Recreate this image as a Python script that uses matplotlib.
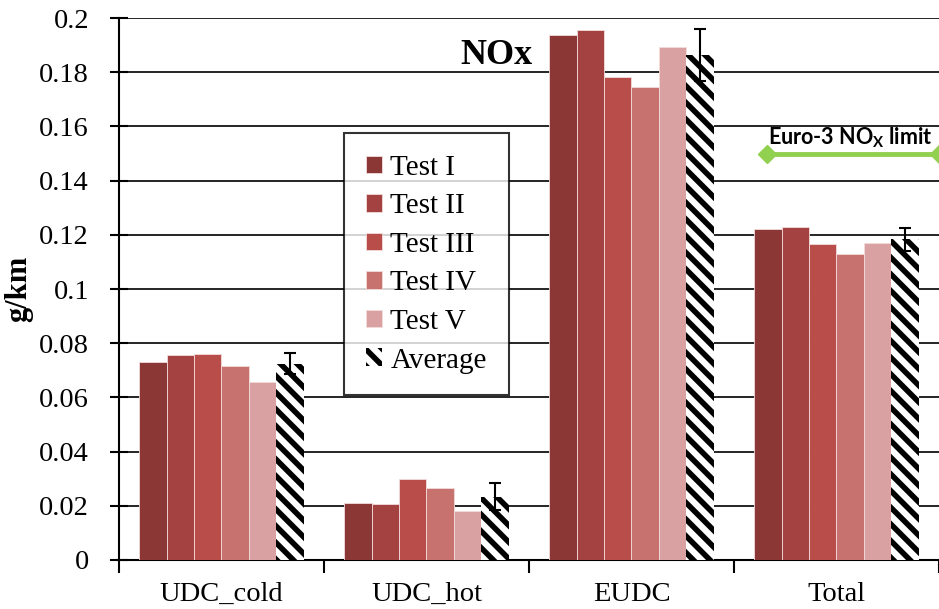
import matplotlib.pyplot as plt
import numpy as np

plt.rcParams['font.family'] = ['Liberation Serif', 'DejaVu Serif']
plt.rcParams['hatch.linewidth'] = 4
plt.rcParams['mathtext.fontset'] = 'custom'
plt.rcParams['mathtext.bf'] = 'Lato:bold'
plt.rcParams['mathtext.rm'] = 'Lato'

cycles = ['UDC_cold', 'UDC_hot', 'EUDC', 'Total']
tests = ['Test I', 'Test II', 'Test III', 'Test IV', 'Test V']
test_values = [
    [0.0732, 0.0209, 0.1938, 0.1220],
    [0.0756, 0.0208, 0.1956, 0.1229],
    [0.0760, 0.0299, 0.1782, 0.1166],
    [0.0717, 0.0266, 0.1747, 0.1129],
    [0.0658, 0.0182, 0.1892, 0.1169],
]
average = [0.0725, 0.0233, 0.1863, 0.1183]
average_err = [0.0040, 0.0050, 0.0095, 0.0042]
euro3_limit = 0.15

colors = ['#8a3736', '#a44241', '#b84d4a', '#c87270', '#d9a1a1']

fig = plt.figure(figsize=(9.39, 6.09), dpi=100)
ax = fig.add_axes([0.1267, 0.0805, 0.8733, 0.8899])

x = np.arange(len(cycles))
w = 0.134
for i, (name, vals) in enumerate(zip(tests, test_values)):
    ax.bar(x + (i - 2.5) * w, vals, w, color=colors[i], edgecolor='#f2dcdc',
           linewidth=0.6, label=name, zorder=3)
ax.bar(x + 2.5 * w, average, w, color='white', edgecolor='black', linewidth=0,
       hatch='\\\\', label='Average', zorder=3)
ax.errorbar(x + 2.5 * w, average, yerr=average_err, fmt='none', ecolor='black',
            elinewidth=1.5, capsize=4, capthick=1.5, zorder=4)

# Euro-3 limit marker over the Total group
ax.plot([2.66, 3.5], [euro3_limit, euro3_limit], color='#92d050', lw=3.5,
        marker='D', markersize=9, clip_on=False, zorder=5)
ax.text(3.07, euro3_limit + 0.006, r'Euro-3 NO$_{\mathbf{X}}$ limit',
        family='Lato', fontweight='bold', fontsize=15.5,
        ha='center', va='center', zorder=6)

ax.text(1.34, 0.183, 'NOx', fontsize=26, fontweight='bold',
        ha='center', va='baseline', zorder=6)

ax.set_xlim(-0.5, 3.5)
ax.set_ylim(0, 0.2)
ax.set_yticks(np.arange(0, 0.201, 0.02))
ax.set_yticklabels(['0', '0.02', '0.04', '0.06', '0.08', '0.1', '0.12',
                    '0.14', '0.16', '0.18', '0.2'])
ax.set_xticks(x)
ax.set_xticklabels(cycles)
ax.set_xticks(np.arange(-0.5, 3.6, 1.0), minor=True)
ax.tick_params(axis='x', which='major', length=0, labelsize=20.5, pad=16)
ax.tick_params(axis='x', which='minor', length=9, width=1.5, direction='out')
ax.tick_params(axis='y', length=13, width=1.5, direction='inout', labelsize=20.5, pad=15)
ax.set_ylabel('g/km', fontsize=22, fontweight='bold', labelpad=4)

ax.yaxis.grid(True, color='black', lw=1.2, zorder=0)
ax.set_axisbelow(True)
for s in ['top', 'right']:
    ax.spines[s].set_visible(False)
ax.spines['left'].set_linewidth(1.5)
ax.spines['bottom'].set_linewidth(1.5)

legend = ax.legend(loc='upper left', bbox_to_anchor=(0.274, 0.788), borderaxespad=0,
                   fontsize=21, frameon=True, fancybox=False, edgecolor='black',
                   handlelength=0.55, handleheight=0.55, handletextpad=0.3,
                   labelspacing=0.43, borderpad=0.75)
legend.get_frame().set_linewidth(1.5)
legend.set_zorder(7)

fig.savefig('out.png', dpi=100)
